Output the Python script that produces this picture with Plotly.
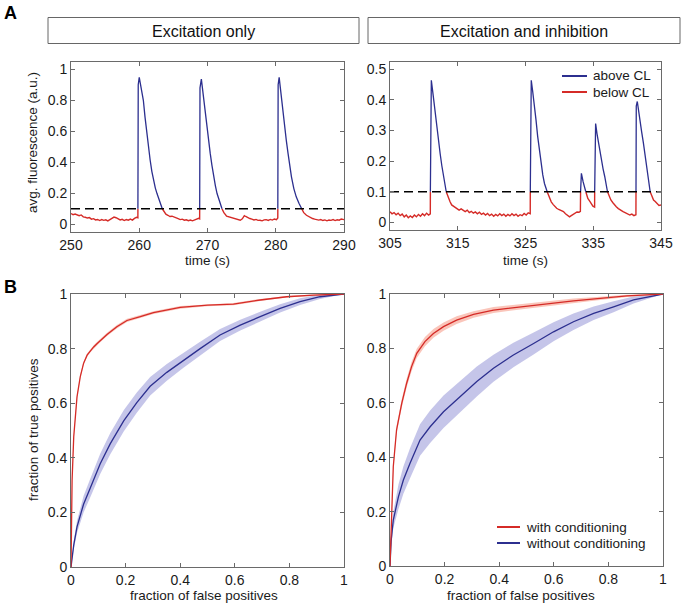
import numpy as np
import plotly.graph_objects as go

# ---------------- data ----------------
CL = 0.1  # confidence level threshold

# Panel A, excitation only: time (s) and avg. fluorescence (a.u.)
t_exc = [250.0, 250.3, 250.6, 250.9, 251.2, 251.5, 251.8, 252.1, 252.4, 252.7,
         253.0, 253.3, 253.6, 253.9, 254.2, 254.5, 254.8, 255.1, 255.4, 255.7,
         256.0, 256.3, 256.6, 256.9, 257.2, 257.5, 257.8, 258.1, 258.4, 258.7,
         259.0, 259.3, 259.6, 259.8, 259.85, 260.0, 260.3, 260.6, 260.85, 261.1,
         261.35, 261.6, 261.85, 262.1, 262.35, 262.6, 262.95, 263.3, 263.6, 263.9,
         264.2, 264.5, 264.8, 265.1, 265.4, 265.7, 266.0, 266.3, 266.6, 266.9,
         267.2, 267.5, 267.8, 268.1, 268.4, 268.7, 268.85, 268.9, 269.1, 269.4,
         269.65, 269.9, 270.15, 270.4, 270.65, 270.9, 271.15, 271.4, 271.75, 272.1,
         272.4, 272.8, 273.1, 273.4, 273.8, 274.1, 274.4, 274.8, 275.1, 275.4,
         275.6, 275.9, 276.2, 276.5, 276.8, 277.1, 277.4, 277.7, 278.0, 278.3,
         278.6, 278.9, 279.2, 279.5, 279.8, 280.1, 280.3, 280.35, 280.5, 280.8,
         281.05, 281.3, 281.55, 281.8, 282.05, 282.3, 282.65, 283.0, 283.4, 283.8,
         284.1, 284.5, 284.8, 285.1, 285.4, 285.7, 286.0, 286.3, 286.6, 286.9,
         287.2, 287.5, 287.8, 288.1, 288.4, 288.7, 289.0, 289.3, 289.6, 290.0]
f_exc = [0.069, 0.062, 0.066, 0.058, 0.055, 0.060, 0.048, 0.045, 0.040, 0.043,
         0.033, 0.036, 0.028, 0.031, 0.024, 0.030, 0.025, 0.029, 0.022, 0.030,
         0.036, 0.046, 0.042, 0.035, 0.028, 0.032, 0.024, 0.030, 0.026, 0.033,
         0.027, 0.038, 0.045, 0.042, 0.900, 0.948, 0.870, 0.800, 0.690, 0.586,
         0.490, 0.413, 0.340, 0.284, 0.235, 0.198, 0.150, 0.105, 0.085, 0.065,
         0.058, 0.050, 0.052, 0.045, 0.042, 0.036, 0.030, 0.033, 0.026, 0.029,
         0.023, 0.027, 0.022, 0.028, 0.032, 0.038, 0.035, 0.880, 0.937, 0.820,
         0.720, 0.630, 0.540, 0.457, 0.380, 0.306, 0.250, 0.198, 0.145, 0.102,
         0.075, 0.052, 0.048, 0.042, 0.037, 0.032, 0.028, 0.026, 0.035, 0.055,
         0.050, 0.042, 0.037, 0.033, 0.028, 0.031, 0.025, 0.026, 0.022, 0.028,
         0.030, 0.025, 0.031, 0.027, 0.034, 0.030, 0.040, 0.900, 0.948, 0.823,
         0.720, 0.630, 0.540, 0.457, 0.380, 0.306, 0.230, 0.177, 0.135, 0.100,
         0.075, 0.058, 0.050, 0.045, 0.037, 0.033, 0.030, 0.027, 0.030, 0.024,
         0.028, 0.022, 0.027, 0.025, 0.030, 0.024, 0.029, 0.026, 0.034, 0.030]

# Panel A, excitation and inhibition
t_inh = [305.0, 305.3, 305.6, 305.9, 306.2, 306.5, 306.8, 307.1, 307.4, 307.7,
         308.0, 308.3, 308.6, 308.9, 309.2, 309.5, 309.8, 310.1, 310.4, 310.7,
         310.95, 311.0, 311.1, 311.4, 311.65, 311.9, 312.15, 312.4, 312.65, 312.9,
         313.1, 313.3, 313.5, 313.6, 313.85, 314.1, 314.4, 314.6, 314.9, 315.2,
         315.5, 315.8, 316.1, 316.4, 316.7, 317.0, 317.3, 317.6, 317.9, 318.2,
         318.5, 318.8, 319.1, 319.4, 319.7, 320.0, 320.3, 320.6, 320.9, 321.2,
         321.5, 321.8, 322.1, 322.4, 322.7, 323.0, 323.3, 323.6, 323.9, 324.2,
         324.5, 324.8, 325.1, 325.4, 325.7, 325.75, 325.85, 326.05, 326.3, 326.55,
         326.8, 327.05, 327.3, 327.55, 327.8, 328.05, 328.2, 328.5, 328.8, 329.1,
         329.35, 329.6, 329.9, 330.2, 330.6, 330.9, 331.2, 331.5, 331.7, 332.0,
         332.3, 332.6, 332.9, 333.1, 333.15, 333.25, 333.5, 333.7, 333.9, 334.2,
         334.45, 334.7, 334.95, 335.2, 335.25, 335.35, 335.55, 335.75, 336.0, 336.2,
         336.45, 336.7, 336.9, 337.1, 337.35, 337.6, 337.9, 338.15, 338.4, 338.7,
         339.0, 339.4, 339.7, 340.0, 340.4, 340.7, 341.0, 341.3, 341.35, 341.5,
         341.7, 341.9, 342.15, 342.4, 342.65, 342.9, 343.15, 343.4, 343.65, 343.9,
         344.15, 344.4, 344.7, 345.0]
f_inh = [0.035, 0.028, 0.032, 0.025, 0.030, 0.022, 0.027, 0.018, 0.024, 0.015,
         0.021, 0.016, 0.024, 0.018, 0.026, 0.020, 0.028, 0.022, 0.030, 0.024,
         0.028, 0.440, 0.464, 0.410, 0.360, 0.312, 0.265, 0.225, 0.185, 0.149,
         0.125, 0.100, 0.088, 0.078, 0.068, 0.057, 0.052, 0.048, 0.046, 0.040,
         0.044, 0.038, 0.035, 0.040, 0.032, 0.036, 0.030, 0.034, 0.028, 0.033,
         0.026, 0.030, 0.024, 0.029, 0.022, 0.027, 0.020, 0.026, 0.021, 0.028,
         0.022, 0.027, 0.020, 0.026, 0.021, 0.028, 0.022, 0.027, 0.020, 0.025,
         0.022, 0.029, 0.024, 0.031, 0.028, 0.440, 0.464, 0.430, 0.390, 0.335,
         0.280, 0.235, 0.192, 0.155, 0.127, 0.108, 0.100, 0.082, 0.067, 0.058,
         0.050, 0.046, 0.042, 0.038, 0.035, 0.028, 0.022, 0.018, 0.021, 0.026,
         0.029, 0.034, 0.033, 0.036, 0.150, 0.160, 0.133, 0.115, 0.100, 0.078,
         0.070, 0.062, 0.053, 0.050, 0.300, 0.323, 0.290, 0.262, 0.230, 0.203,
         0.175, 0.149, 0.125, 0.100, 0.085, 0.073, 0.064, 0.056, 0.051, 0.045,
         0.040, 0.035, 0.032, 0.028, 0.024, 0.027, 0.022, 0.025, 0.380, 0.395,
         0.360, 0.335, 0.295, 0.260, 0.220, 0.182, 0.140, 0.100, 0.085, 0.073,
         0.068, 0.062, 0.055, 0.057]

# Panel B, ROC curves (excitation only)
fp_cond_1 = [0, 0.004, 0.01, 0.022, 0.034, 0.046, 0.059, 0.071, 0.083, 0.095,
             0.107, 0.132, 0.168, 0.205, 0.254, 0.302, 0.4, 0.5, 0.595, 0.693,
             0.79, 0.888, 1]
tp_cond_1 = [0, 0.318, 0.477, 0.623, 0.697, 0.746, 0.776, 0.793, 0.806, 0.818,
             0.829, 0.852, 0.88, 0.903, 0.917, 0.932, 0.951, 0.959, 0.963, 0.978,
             0.99, 0.996, 1]
sd_cond_1 = [0, 0.003, 0.004, 0.005, 0.005, 0.006, 0.006, 0.006, 0.006, 0.006,
             0.006, 0.006, 0.006, 0.006, 0.006, 0.005, 0.005, 0.004, 0.004, 0.004,
             0.003, 0.002, 0]
fp_nocond_1 = [0, 0.01, 0.022, 0.046, 0.071, 0.107, 0.144, 0.193, 0.241, 0.29,
               0.351, 0.412, 0.473, 0.546, 0.62, 0.693, 0.766, 0.839, 0.912, 1]
tp_nocond_1 = [0, 0.08, 0.147, 0.23, 0.29, 0.378, 0.452, 0.535, 0.602, 0.662,
               0.713, 0.758, 0.8, 0.85, 0.886, 0.917, 0.947, 0.972, 0.99, 1]
sd_nocond_1 = [0, 0.015, 0.022, 0.03, 0.034, 0.037, 0.039, 0.039, 0.037, 0.034,
               0.031, 0.028, 0.025, 0.022, 0.02, 0.018, 0.015, 0.012, 0.008, 0]

# Panel B, ROC curves (excitation and inhibition)
fp_cond_2 = [0, 0.006, 0.012, 0.024, 0.043, 0.061, 0.079, 0.098, 0.128, 0.159,
             0.196, 0.244, 0.306, 0.379, 0.477, 0.575, 0.672, 0.77, 0.868, 1]
tp_cond_2 = [0, 0.194, 0.365, 0.5, 0.598, 0.672, 0.733, 0.782, 0.825, 0.855,
             0.88, 0.904, 0.925, 0.941, 0.953, 0.963, 0.975, 0.984, 0.993, 1]
sd_cond_2 = [0, 0.01, 0.012, 0.014, 0.015, 0.016, 0.017, 0.017, 0.017, 0.016,
             0.015, 0.014, 0.012, 0.011, 0.01, 0.009, 0.008, 0.006, 0.004, 0]
fp_nocond_2 = [0, 0.004, 0.012, 0.031, 0.049, 0.073, 0.11, 0.147, 0.196, 0.257,
               0.318, 0.379, 0.452, 0.526, 0.599, 0.672, 0.746, 0.819, 0.892, 1]
tp_nocond_2 = [0, 0.09, 0.169, 0.255, 0.316, 0.377, 0.463, 0.512, 0.567, 0.623,
               0.678, 0.727, 0.776, 0.818, 0.861, 0.898, 0.929, 0.953, 0.978, 1]
sd_nocond_2 = [0, 0.02, 0.03, 0.045, 0.05, 0.055, 0.058, 0.06, 0.06, 0.058,
               0.055, 0.05, 0.045, 0.04, 0.035, 0.03, 0.025, 0.02, 0.013, 0]

unit_ticks = [0, 0.2, 0.4, 0.6, 0.8, 1]
unit_ticktext = ["0", "0.2", "0.4", "0.6", "0.8", "1"]

# ---------------- styling ----------------
W, H = 684, 606
RED = "#d52b27"
BLUE = "#2c2f8f"
RED_BAND = "rgba(245,150,130,0.55)"
BLUE_BAND = "rgba(150,150,215,0.55)"
FONT = "Liberation Sans, Arial, Helvetica, sans-serif"
FRAME = "#6a6a6a"
TXT = "#1a1a1a"
FS = 14
FS_T = 13.5


def px(x):
    return x / W


def py(y):
    return 1 - y / H


def split_by_level(t, f, cl):
    tt, ff = [t[0]], [f[0]]
    for i in range(1, len(t)):
        a, b = f[i - 1], f[i]
        if (a - cl) * (b - cl) < 0:
            tc = t[i - 1] + (cl - a) / (b - a) * (t[i] - t[i - 1])
            tt.append(tc)
            ff.append(cl)
        tt.append(t[i])
        ff.append(f[i])
    above = [v if v >= cl else None for v in ff]
    below = [v if v <= cl else None for v in ff]
    return tt, above, below


fig = go.Figure()

# ---- Panel A traces ----
for (t, f, xa, ya) in [(t_exc, f_exc, "x", "y"), (t_inh, f_inh, "x2", "y2")]:
    tt, above, below = split_by_level(t, f, CL)
    fig.add_trace(go.Scatter(x=tt, y=below, mode="lines", xaxis=xa, yaxis=ya,
                             line=dict(color=RED, width=1.4), name="below CL",
                             showlegend=False, connectgaps=False,
                             hoverinfo="skip"))
    fig.add_trace(go.Scatter(x=tt, y=above, mode="lines", xaxis=xa, yaxis=ya,
                             line=dict(color=BLUE, width=1.3), name="above CL",
                             showlegend=False, connectgaps=False,
                             hoverinfo="skip"))
    fig.add_trace(go.Scatter(x=[t[0], t[-1]], y=[CL, CL], mode="lines",
                             xaxis=xa, yaxis=ya, showlegend=False,
                             line=dict(color="black", width=1.3, dash="9px,5px"),
                             hoverinfo="skip"))

# ---- Panel B traces ----
roc_sets = [
    ("x3", "y3", (fp_cond_1, tp_cond_1, sd_cond_1),
     (fp_nocond_1, tp_nocond_1, sd_nocond_1)),
    ("x4", "y4", (fp_cond_2, tp_cond_2, sd_cond_2),
     (fp_nocond_2, tp_nocond_2, sd_nocond_2)),
]
for xa, ya, cond, nocond in roc_sets:
    for (fp, tp, sd), col, band, name in [
            (nocond, BLUE, BLUE_BAND, "without conditioning"),
            (cond, RED, RED_BAND, "with conditioning")]:
        fp = np.array(fp)
        tp = np.array(tp)
        sd = np.array(sd)
        hi = np.clip(tp + sd, 0, 1)
        lo = np.clip(tp - sd, 0, 1)
        fig.add_trace(go.Scatter(
            x=np.concatenate([fp, fp[::-1]]), y=np.concatenate([hi, lo[::-1]]),
            fill="toself", fillcolor=band, line=dict(width=0), mode="lines",
            xaxis=xa, yaxis=ya, showlegend=False, hoverinfo="skip"))
        fig.add_trace(go.Scatter(
            x=fp, y=tp, mode="lines", line=dict(color=col, width=1.3),
            xaxis=xa, yaxis=ya, name=name, showlegend=False, hoverinfo="skip"))

axis_common = dict(showline=True, mirror="ticks", linecolor=FRAME, linewidth=1,
                   ticks="inside", ticklen=4, tickcolor=FRAME, showgrid=False,
                   zeroline=False, automargin=False,
                   tickfont=dict(family=FONT, size=FS, color=TXT))

fig.update_layout(
    template="none",
    width=W, height=H, margin=dict(l=0, r=0, t=0, b=0, pad=0, autoexpand=False),
    paper_bgcolor="white", plot_bgcolor="white", showlegend=False,
    font=dict(family=FONT, size=FS, color=TXT),
    xaxis=dict(domain=[px(71), px(344)], range=[250, 290],
               tickvals=[250, 260, 270, 280, 290], anchor="y", **axis_common),
    yaxis=dict(domain=[py(232), py(62)], range=[-0.05, 1.047],
               tickvals=unit_ticks, ticktext=unit_ticktext, anchor="x",
               **axis_common),
    xaxis2=dict(domain=[px(390), px(661)], range=[305, 345],
                tickvals=[305, 315, 325, 335, 345], anchor="y2", **axis_common),
    yaxis2=dict(domain=[py(230), py(62)], range=[-0.025, 0.524],
                tickvals=[0, 0.1, 0.2, 0.3, 0.4, 0.5], anchor="x2",
                **axis_common),
    xaxis3=dict(domain=[px(71), px(344)], range=[0, 1], tickvals=unit_ticks,
                ticktext=unit_ticktext, anchor="y3", **axis_common),
    yaxis3=dict(domain=[py(567), py(294)], range=[0, 1], tickvals=unit_ticks,
                ticktext=unit_ticktext, anchor="x3", **axis_common),
    xaxis4=dict(domain=[px(390), px(663)], range=[0, 1], tickvals=unit_ticks,
                ticktext=unit_ticktext, anchor="y4", **axis_common),
    yaxis4=dict(domain=[py(566), py(294)], range=[0, 1], tickvals=unit_ticks,
                ticktext=unit_ticktext, anchor="x4", **axis_common),
)

shapes = []
annotations = []
# strip headers
for (x0, x1, label) in [(48, 359, "Excitation only"),
                        (368, 680, "Excitation and inhibition")]:
    shapes.append(dict(type="rect", xref="paper", yref="paper",
                       x0=px(x0), x1=px(x1), y0=py(43.5), y1=py(17.5),
                       line=dict(color="#666", width=1), fillcolor="white"))
    annotations.append(dict(xref="paper", yref="paper", x=px((x0 + x1) / 2),
                            y=py(31), text=label, showarrow=False,
                            xanchor="center", yanchor="middle",
                            font=dict(family=FONT, size=16, color="#111")))

# legends (keys drawn as short line segments)
legend_items = [
    (562, 587, 76, BLUE, "above CL"),
    (562, 587, 92, RED, "below CL"),
    (497, 520, 527, RED, "with conditioning"),
    (497, 520, 543, BLUE, "without conditioning"),
]
for x0, x1, y, col, label in legend_items:
    shapes.append(dict(type="line", xref="paper", yref="paper",
                       x0=px(x0), x1=px(x1), y0=py(y), y1=py(y),
                       line=dict(color=col, width=2)))
    annotations.append(dict(xref="paper", yref="paper", x=px(x1 + 4), y=py(y),
                            text=label, showarrow=False, xanchor="left",
                            yanchor="middle",
                            font=dict(family=FONT, size=FS_T, color=TXT)))

titles = [
    ("avg. fluorescence (a.u.)", 32, 143, -90),
    ("time (s)", 207, 260, 0),
    ("time (s)", 525, 260, 0),
    ("fraction of true positives", 33, 430, -90),
    ("fraction of false positives", 204, 595, 0),
    ("fraction of false positives", 521, 595, 0),
]
for text, x, y, ang in titles:
    annotations.append(dict(xref="paper", yref="paper", x=px(x), y=py(y),
                            text=text, showarrow=False, textangle=ang,
                            xanchor="center", yanchor="middle",
                            font=dict(family=FONT, size=FS_T, color=TXT)))
for text, x, y in [("A", 10, 13), ("B", 10, 287)]:
    annotations.append(dict(xref="paper", yref="paper", x=px(x), y=py(y),
                            text="<b>%s</b>" % text, showarrow=False,
                            xanchor="center", yanchor="middle",
                            font=dict(family=FONT, size=18, color="black")))

fig.update_layout(shapes=shapes, annotations=annotations)
fig.write_html("out.html", config={"displayModeBar": False},
               post_script="document.body.style.margin='0px';")
